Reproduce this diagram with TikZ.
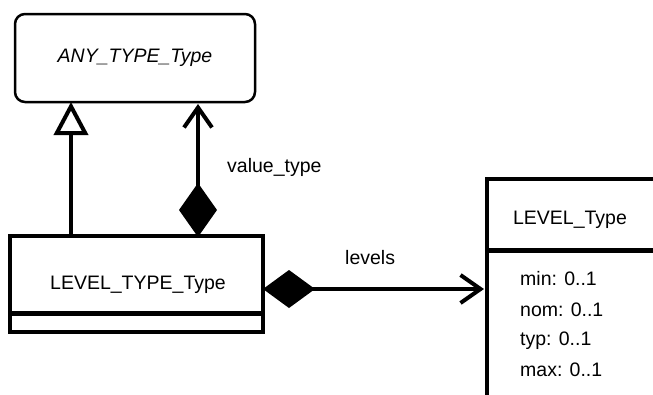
\documentclass[tikz,border=0pt]{standalone}
\usepackage{fontspec}
\setmainfont{Liberation Sans}
\usetikzlibrary{arrows.meta}
\begin{document}
\begin{tikzpicture}[x=1pt,y=-1pt,
  txt/.style={font=\fontsize{19.5}{22}\selectfont, inner sep=0pt},
  lbl/.style={txt, anchor=west},
  cls/.style={draw=black, line width=4pt, inner sep=0pt},
  conn/.style={line width=4pt},
  gen/.style={-{Triangle[open,length=33pt,width=34pt,line width=4pt]}},
  compnav/.style={{Diamond[length=54pt,width=38pt,fill=black]}-{Straight Barb[length=20pt,width=28pt,line width=4pt]}},
  compnavh/.style={{Diamond[length=52pt,width=38pt,fill=black]}-{Straight Barb[length=20pt,width=28pt,line width=4pt]}}]
\useasboundingbox (0,0) rectangle (653,394);
\clip (0,0) rectangle (653,394);
% ANY_TYPE_Type
\node[draw, line width=2.5pt, rounded corners=10pt, minimum width=240pt, minimum height=88pt, inner sep=0pt] (any) at (135,58) {};
\node[txt, font=\fontsize{19.5}{22}\selectfont\itshape] (anyt) at (135,58) {ANY\_TYPE\_Type};
% LEVEL_TYPE_Type
\node[cls, minimum width=253pt, minimum height=96pt] (lt) at (136.5,284) {};
\node[txt] (ltt) at (138,285) {LEVEL\_TYPE\_Type};
\draw[line width=5pt] ([yshift=-79pt]lt.north west) coordinate (ltd1) -- ([yshift=-79pt]lt.north east) coordinate (ltd2);
% LEVEL_Type
\node[cls, minimum width=169pt, minimum height=240pt, anchor=north west] (lv) at (485,177) {};
\node[txt] (lvt) at (570,220) {LEVEL\_Type};
\draw[line width=5pt] ([yshift=-73pt]lv.north west) coordinate (lvd1) -- ([yshift=-73pt]lv.north east) coordinate (lvd2);
\node[lbl] (a1) at (520,279) {min: 0..1};
\node[lbl] (a2) at (520,310) {nom: 0..1};
\node[lbl] (a3) at (520,341) {typ: 0..1};
\node[lbl] (a4) at (520,370) {max: 0..1};
% connectors
\coordinate (g0) at (71,237);
\coordinate (g1) at (71,102);
\draw[conn, gen] (g0) -- (g1);
\coordinate (v0) at (198,237);
\coordinate (v1) at (198,104);
\draw[conn, compnav] (v0) -- (v1);
\node[lbl] (vl) at (227,167) {value\_type};
\coordinate (l0) at (263,289);
\coordinate (l1) at (484,289);
\draw[conn, compnavh] (l0) -- (l1);
\node[lbl] (ll) at (345,258) {levels};
\end{tikzpicture}
\end{document}
